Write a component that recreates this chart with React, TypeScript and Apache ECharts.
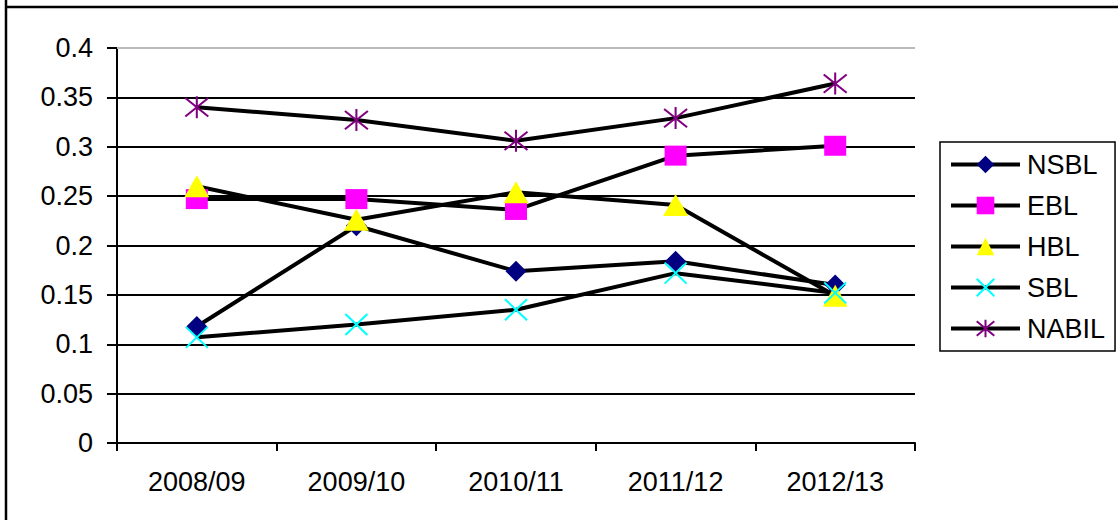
import React, { useEffect, useRef } from "react";
import * as echarts from "echarts";

const categories = ["2008/09", "2009/10", "2010/11", "2011/12", "2012/13"];
const nsbl = [0.118, 0.22, 0.174, 0.184, 0.16];
const ebl = [0.247, 0.247, 0.236, 0.291, 0.301];
const hbl = [0.26, 0.226, 0.254, 0.241, 0.149];
const sbl = [0.107, 0.12, 0.135, 0.172, 0.152];
const nabil = [0.34, 0.327, 0.306, 0.329, 0.364];

const seriesNames = ["NSBL", "EBL", "HBL", "SBL", "NABIL"];
const yMin = 0;
const yMax = 0.4;
const yStep = 0.05;

const FONT = "'Liberation Sans', Arial, sans-serif";
const FS = 27;
const CROSS = "path://M0,0 L10,10 M10,0 L0,10";
const STAR = "path://M0,0 L10,10 M10,0 L0,10 M5,-1 L5,11";

export default function App() {
  const ref = useRef<HTMLDivElement>(null);
  useEffect(() => {
    if (!ref.current) return;
    const chart = echarts.init(ref.current, null, { renderer: "svg" });
    const lineStyle = { color: "#000", width: 4 };
    const mk = (name: string, data: number[], symbol: string, size: any, color: string, stroke?: boolean) => ({
      name,
      type: "line",
      data,
      symbol,
      symbolSize: size,
      showAllSymbol: true,
      lineStyle,
      itemStyle: stroke
        ? { color: "transparent", borderColor: color, borderWidth: 2 }
        : { color, borderWidth: 0 },
      emphasis: { disabled: true },
      z: 3,
    });
    chart.setOption({
      animation: false,
      backgroundColor: "#fff",
      textStyle: { fontFamily: FONT },
      grid: { left: 117, right: 203, top: 48, bottom: 77, containLabel: false },
      legend: {
        orient: "vertical",
        left: 940,
        top: 142,
        padding: [9, 10, 9, 9],
        itemGap: 14,
        itemWidth: 69,
        itemHeight: 22,
        borderColor: "#000",
        borderWidth: 1.5,
        data: seriesNames,
        lineStyle: { width: 4, color: "#000" },
        textStyle: { fontSize: FS, lineHeight: 26, color: "#000", fontFamily: FONT, padding: [0, 0, 0, 2] },
      },
      xAxis: {
        type: "category",
        data: categories,
        boundaryGap: true,
        axisLine: { lineStyle: { color: "#000", width: 2 } },
        axisTick: { show: true, length: 8, lineStyle: { color: "#000", width: 2 } },
        axisLabel: { fontSize: FS, color: "#000", margin: 25, fontFamily: FONT },
        splitLine: { show: false },
      },
      yAxis: {
        type: "value",
        min: yMin,
        max: yMax,
        interval: yStep,
        axisLine: { show: true, lineStyle: { color: "#000", width: 2 } },
        axisTick: { show: true, length: 10, lineStyle: { color: "#000", width: 2 } },
        axisLabel: { fontSize: FS, color: "#000", margin: 24, fontFamily: FONT },
        splitLine: { show: true, showMaxLine: false, lineStyle: { color: "#000", width: 2 } },
      },
      series: [
        {
          ...mk("NSBL", nsbl, "diamond", [21, 21], "#000080"),
          markLine: {
            silent: true,
            symbol: "none",
            label: { show: false },
            lineStyle: { color: "#bbb", width: 2, type: "solid" },
            data: [{ yAxis: yMax }],
          },
        },
        mk("EBL", ebl, "rect", [22, 20], "#FF00FF"),
        mk("HBL", hbl, "triangle", [25, 22], "#FFFF00"),
        mk("SBL", sbl, CROSS, [22, 21], "#00FFFF", true),
        mk("NABIL", nabil, STAR, [23, 22], "#800080", true),
      ],
      graphic: [
        { type: "line", shape: { x1: 6, y1: 0, x2: 6, y2: 520 }, style: { stroke: "#000", lineWidth: 2.5 } },
        { type: "line", shape: { x1: 5, y1: 7, x2: 1118, y2: 7 }, style: { stroke: "#000", lineWidth: 2.5 } },
      ],
    });
    return () => chart.dispose();
  }, []);
  return <div ref={ref} style={{ position: "fixed", left: 0, top: 0, width: 1118, height: 520 }} />;
}
